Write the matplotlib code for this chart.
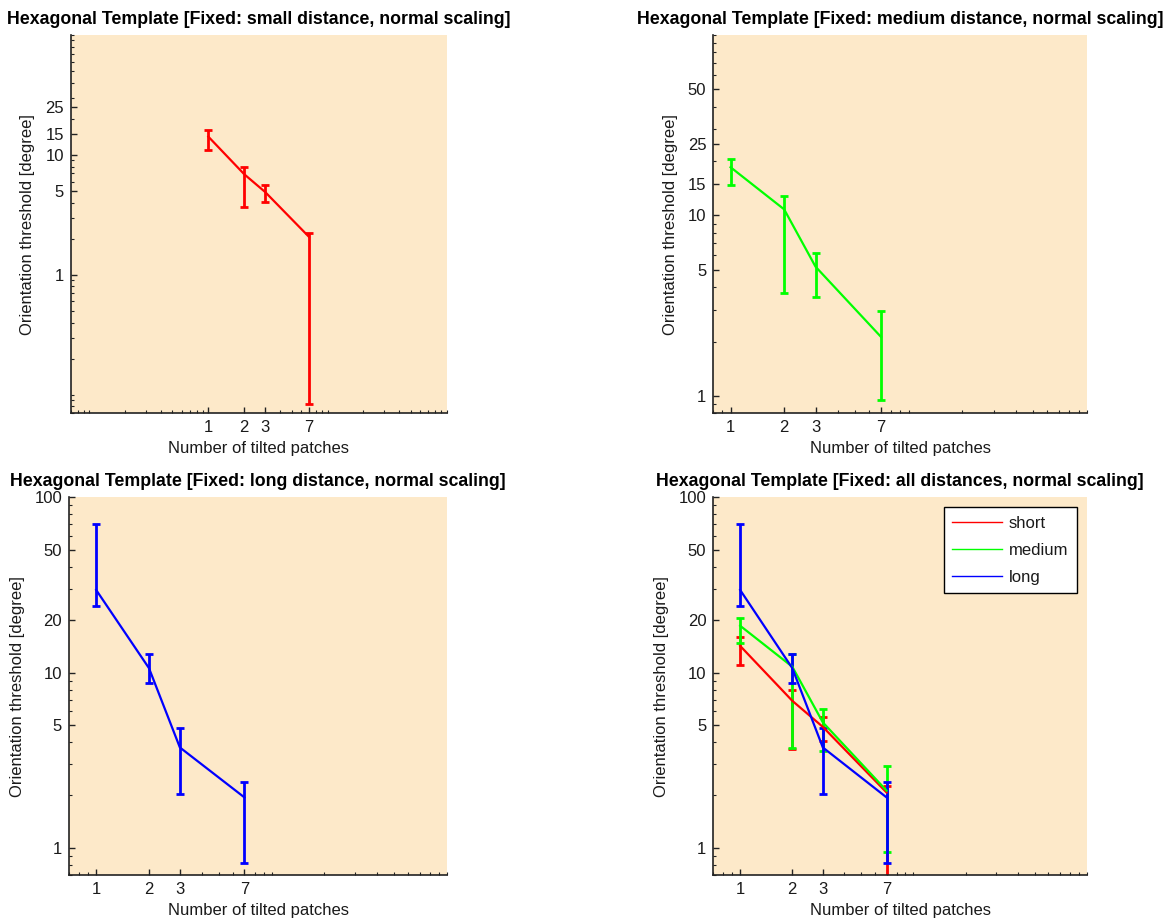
import matplotlib
matplotlib.use("Agg")
import matplotlib.pyplot as plt
from matplotlib.ticker import FixedLocator, FixedFormatter, LogLocator, NullFormatter
from matplotlib.lines import Line2D
import numpy as np

plt.rcParams['font.family'] = ['Liberation Sans', 'DejaVu Sans']

# Number of tilted patches
patches = [1, 2, 3, 7]

# Orientation thresholds (degree): mean, lower and upper end of error bar
short_mean = [14.2, 6.9, 4.9, 2.07]
short_low = [11.0, 3.65, 4.07, 0.084]
short_high = [16.0, 8.0, 5.6, 2.24]

medium_mean = [18.5, 10.8, 5.2, 2.12]
medium_low = [14.7, 3.7, 3.55, 0.95]
medium_high = [20.6, 12.8, 6.2, 2.94]

long_mean = [29.6, 10.6, 3.74, 1.94]
long_low = [24.0, 8.7, 2.04, 0.82]
long_high = [70.0, 12.7, 4.8, 2.38]

series_names = ["short", "medium", "long"]
series_colors = ["#ff0000", "#00ff00", "#0000ff"]

x_ticks = [1, 2, 3, 7]
y_ticks_short = [1, 5, 10, 15, 25]
y_ticks_medium = [1, 5, 10, 15, 25, 50]
y_ticks_long = [1, 5, 10, 20, 50, 100]

titles = [
    "Hexagonal Template [Fixed: small distance, normal scaling]",
    "Hexagonal Template [Fixed: medium distance, normal scaling]",
    "Hexagonal Template [Fixed: long distance, normal scaling]",
    "Hexagonal Template [Fixed: all distances, normal scaling]",
]

BG = "#fde9c9"
TXT = "#1a1a1a"

fig = plt.figure(figsize=(11.69, 9.24), dpi=100)
W, H = 1169.0, 924.0


def make_axes(left, right, top, bottom):
    return fig.add_axes([left / W, 1 - bottom / H, (right - left) / W, (bottom - top) / H])


def style(ax, title, xlim, ylim, yticks):
    ax.set_facecolor(BG)
    ax.set_xscale("log")
    ax.set_yscale("log")
    ax.set_xlim(*xlim)
    ax.set_ylim(*ylim)
    for s in ("top", "right"):
        ax.spines[s].set_visible(False)
    for s in ("left", "bottom"):
        ax.spines[s].set_linewidth(1.2)
        ax.spines[s].set_color("#222222")
    ax.xaxis.set_major_locator(FixedLocator(x_ticks))
    ax.xaxis.set_major_formatter(FixedFormatter([str(v) for v in x_ticks]))
    ax.xaxis.set_minor_locator(LogLocator(base=10, subs=np.arange(1, 10), numticks=20))
    ax.xaxis.set_minor_formatter(NullFormatter())
    ax.yaxis.set_major_locator(FixedLocator(yticks))
    ax.yaxis.set_major_formatter(FixedFormatter([str(v) for v in yticks]))
    ax.yaxis.set_minor_locator(LogLocator(base=10, subs=np.arange(1, 10), numticks=20))
    ax.yaxis.set_minor_formatter(NullFormatter())
    ax.tick_params(which="major", direction="in", length=4, width=1, color="#222222",
                   labelsize=12, labelcolor=TXT, pad=5)
    ax.tick_params(which="minor", direction="in", length=2.5, width=0.8, color="#222222")
    ax.set_xlabel("Number of tilted patches", fontsize=12, color=TXT, labelpad=4)
    ax.set_ylabel("Orientation threshold [degree]", fontsize=12, color=TXT, labelpad=7)
    ax.set_title(title, fontsize=12.8, fontweight="bold", color="black", pad=8)


def draw_series(ax, mean, low, high, color):
    mean = np.asarray(mean)
    yerr = [mean - np.asarray(low), np.asarray(high) - mean]
    ax.errorbar(patches, mean, yerr=yerr, color=color, lw=1.6, elinewidth=2.0,
                capsize=3, capthick=2.0, clip_on=True)


data = [
    (short_mean, short_low, short_high),
    (medium_mean, medium_low, medium_high),
    (long_mean, long_low, long_high),
]

ax1 = make_axes(70.7, 446.7, 35, 413.3)
style(ax1, titles[0], (0.07, 100), (0.07, 100), y_ticks_short)
draw_series(ax1, *data[0], series_colors[0])

ax2 = make_axes(713.3, 1086.7, 35, 413.3)
style(ax2, titles[1], (0.8, 100), (0.8, 100), y_ticks_medium)
draw_series(ax2, *data[1], series_colors[1])

ax3 = make_axes(69, 447, 497.3, 875)
style(ax3, titles[2], (0.7, 100), (0.7, 100), y_ticks_long)
draw_series(ax3, *data[2], series_colors[2])

ax4 = make_axes(713.3, 1086.7, 497.3, 875)
style(ax4, titles[3], (0.7, 100), (0.7, 100), y_ticks_long)
for (m, lo, hi), c in zip(data, series_colors):
    draw_series(ax4, m, lo, hi, c)

handles = [Line2D([0], [0], color=c, lw=1.0) for c in series_colors]
leg = ax4.legend(handles, series_names, loc="upper right", fontsize=12,
                 frameon=True, fancybox=False, framealpha=1.0, edgecolor="black",
                 handlelength=3.0, handletextpad=0.4, labelspacing=0.72,
                 borderpad=0.5, borderaxespad=0.6)
leg.get_frame().set_linewidth(1.0)
for t in leg.get_texts():
    t.set_color(TXT)

fig.savefig("out.png", dpi=100, facecolor="white")
